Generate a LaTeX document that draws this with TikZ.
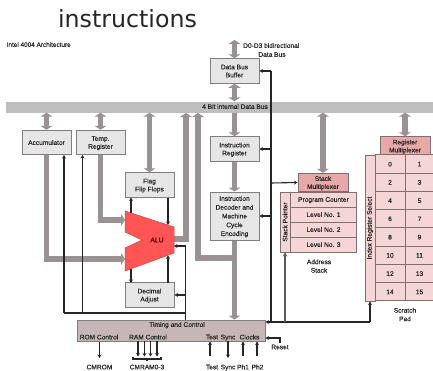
\documentclass[tikz,border=0pt]{standalone}
\usepackage{fontspec}
\setmainfont{Liberation Sans}[BoldFont=Liberation Sans,BoldFeatures={FakeBold=0.35}]
\newfontfamily\titlefont{DejaVu Sans}
\usetikzlibrary{arrows.meta,calc}
\definecolor{busgray}{HTML}{BEBEBE}
\definecolor{thick}{HTML}{9A9292}
\definecolor{boxfill}{HTML}{E6E6E6}
\definecolor{boxline}{HTML}{7F7F7F}
\definecolor{pinkfill}{HTML}{F4D6D6}
\definecolor{muxfill}{HTML}{E6A8A8}
\definecolor{pinkline}{HTML}{7F6F6F}
\definecolor{timefill}{HTML}{C6B6B6}
\definecolor{alured}{HTML}{FF5555}
\tikzset{
  txt/.style={font=\fontsize{6.6}{7.5}\selectfont\bfseries,text=black!85,inner sep=0pt,align=center,text depth=0pt},
  bx/.style={txt,draw=boxline,line width=1pt,fill=boxfill,minimum width=49pt,minimum height=24.5pt,align=center},
  pinkbx/.style={txt,draw=pinkline,line width=1pt,fill=pinkfill,minimum width=66pt,minimum height=15pt},
  cellbx/.style={txt,draw=pinkline,line width=1pt,fill=pinkfill,minimum width=30pt,minimum height=18.25pt},
  muxbx/.style={txt,draw=pinkline,line width=1pt,fill=muxfill,minimum width=50pt,minimum height=18.5pt},
  fat/.style={draw=thick,line width=5.5pt,-{Triangle[length=4pt,width=12pt]}},
  fatboth/.style={draw=thick,line width=5.5pt,{Triangle[length=4pt,width=12pt]}-{Triangle[length=4pt,width=12pt]}},
  thin/.style={draw=black!85,line width=1.1pt,-{Stealth[length=3.5pt,width=4pt]}},
  plainline/.style={draw=black!85,line width=1.1pt},
}
\begin{document}
\begin{tikzpicture}[x=1pt,y=-1pt]
\useasboundingbox (0,0) rectangle (433,370);
% title
\node[font=\titlefont\fontsize{23.7}{26}\selectfont,text=black!85,inner sep=0pt,anchor=base] (title) at (127.5,27) {instructions};
\node[txt,font=\fontsize{6.4}{7}\selectfont\bfseries,anchor=west] (arch) at (6.5,44.5) {Intel 4004 Architecture};
% bus
\node[fill=busgray,minimum width=427pt,minimum height=11pt,inner sep=0pt] (bus) at (219.5,107) {};
\node[txt] (buslabel) at (235,106.5) {4 Bit internal Data Bus};
% boxes
\node[bx] (acc) at (46.5,142.5) {Accumulator};
\node[bx] (temp) at (100.5,142.5) {Temp.\\[0.5pt]Register};
\node[bx] (flag) at (149.5,185) {Flag\\[0.5pt]Flip Flops};
\node[bx] (dec) at (149.5,295) {Decimal\\[0.5pt]Adjust};
\node[bx] (dbb) at (234.5,71) {Data Bus\\[0.5pt]Buffer};
\node[bx] (ir) at (234.5,149) {Instruction\\[0.5pt]Register};
\node[bx,minimum height=48pt] (idc) at (234.5,216) {Instruction\\[1.3pt]Decoder and\\[1.3pt]Machine\\[1.3pt]Cycle\\[1.3pt]Encoding};
\node[txt,anchor=west] (dbus) at (243,45.5) {D0-D3 bidirectional};
\node[txt] (dbus2) at (272,54.5) {Data Bus};
\coordinate (dtop) at (234.5,40);
% ALU
\coordinate (a1) at (125,211); \coordinate (a2) at (174,227); \coordinate (a3) at (174,253);
\coordinate (a4) at (125,271); \coordinate (a5) at (125,248); \coordinate (a6) at (142,240); \coordinate (a7) at (125,232);
% fat arrows
\draw[fatboth] (acc.north) -- (bus.south -| acc);
\draw[fatboth] (temp.north) -- (bus.south -| temp);
\draw[fatboth] (flag.north) -- (bus.south -| flag);
\draw[fatboth] (dbb.north) -- (dtop);
\draw[fatboth] (dbb.south) -- (bus.north -| dbb);
\draw[fat] (bus.south -| ir) -- (ir.north);
\draw[fat] (ir.south) -- (idc.north);
\coordinate (aluin1) at (125,220); \coordinate (aluin2) at (125,259);
\coordinate (aluout) at (174,239);
\coordinate (bus185) at (186,113); \coordinate (bus198) at (198,113);
\coordinate (join) at (234.5,258);
\draw[fat] (acc.south) |- (aluin2);
\draw[fat] (temp.south) |- (aluin1);
\draw[fat] (aluout) -| (bus185);
\draw[draw=thick,line width=5.5pt] (join) -| (198,120);
\draw[fat] (198,120) -- (bus198);
% stack
\node[muxbx] (smux) at (323,182.5) {Stack\\[0.5pt]Multiplexer};
\node[pinkbx,anchor=west] (pc) at (290,199.5) {Program Counter};
\node[pinkbx,anchor=west] (l1) at (290,214.5) {Level No. 1};
\node[pinkbx,anchor=west] (l2) at (290,229.5) {Level No. 2};
\node[pinkbx,anchor=west] (l3) at (290,244.5) {Level No. 3};
\node[txt,draw=pinkline,line width=1pt,fill=pinkfill,minimum width=10pt,minimum height=60pt] (sp) at (285,222) {\rotatebox{90}{Stack Pointer}};
\node[txt] (astack) at (319,266) {Address\\[1pt]Stack};
% scratch pad
\node[muxbx] (rmux) at (405,146) {Register\\[0.5pt]Multiplexer};
\node[txt,draw=pinkline,line width=1pt,fill=pinkfill,minimum width=10pt,minimum height=146pt] (irs) at (370,228) {\rotatebox{90}{Index Register Select}};
\foreach \n/\a/\b [count=\i from 0] in {0/0/1,1/2/3,2/4/5,3/6/7,4/8/9,5/10/11,6/12/13,7/14/15}{
  \node[cellbx] (c\a) at (390,{164.1+18.25*\i}) {\a};
  \node[cellbx,minimum width=28pt,anchor=west] (c\b) at (405,{164.1+18.25*\i}) {\b};
}
\node[txt] (spad) at (405,314.5) {Scratch\\[1pt]Pad};
\draw[fatboth] (smux.north) -- (bus.south -| smux);
\draw[fatboth] (rmux.north) -- (bus.south -| rmux);
% timing
\node[draw=boxline,line width=1pt,fill=timefill,minimum width=188pt,minimum height=21pt,inner sep=0pt] (tc) at (171,330.5) {};
\node[txt] (tctitle) at (177,324.5) {Timing and Control};
\node[txt] (rom) at (99,337) {ROM Control};
\node[txt] (ram) at (148,337) {RAM Control};
\node[txt] (ttest) at (212,337) {Test};
\node[txt] (tsync) at (228,337) {Sync};
\node[txt] (tclk) at (249.5,337) {Clocks};
\node[txt] (cmrom) at (99.5,367) {CMROM};
\node[txt] (cmram) at (147,367) {CMRAM0-3};
\node[txt] (btest) at (212,367) {Test};
\node[txt] (bsync) at (228,367) {Sync};
\node[txt] (ph1) at (243,367) {Ph1};
\node[txt] (ph2) at (257.5,367) {Ph2};
\node[txt] (reset) at (280,347) {Reset};
% fat arrow into timing
\draw[fat] (idc.south) -- (tc.north -| idc);
% ALU polygon
\draw[fill=alured,draw=alured!80!black,line width=0.5pt] (a1) -- (a2) -- (a3) -- (a4) -- (a5) -- (a6) -- (a7) -- cycle;
\node[font=\fontsize{6.8}{8}\selectfont\bfseries,text=red!30!black,inner sep=0pt] (alu) at (157,240) {ALU};
% thin black connections
\coordinate (v271) at (271,322);
\coordinate (r370) at (370,322);
\draw[thin] (v271) -- (265.5,322);
\draw[plainline] (v271) -- (r370);
\draw[thin] (r370) -- (irs.south -| r370);
\draw[plainline] (271,71) -- (v271);
\draw[thin] (271,71) -- (dbb.east);
\draw[thin] (271,149) -- (ir.east);
\draw[thin] (271,216) -- (idc.east);
\draw[thin] (271,183) -- (smux.west);
\draw[draw=thick!60!black,line width=2pt,-{Stealth[length=4pt,width=4.5pt]}] (285,322) -- (sp.south);
% control line
\coordinate (c185) at (185.5,320);
\coordinate (h313) at (185.5,313);
\draw[plainline] (c185) -- (185.5,246);
\draw[thin] (185.5,246) -- (174,246);
\draw[thin] (185.5,295) -- (dec.east);
\draw[plainline] (h313) -- (64,313);
\draw[thin] (64,313) -- (64,155);
\draw[thin] (82.5,313) -- (82.5,155);
% ALU links
\draw[thin] (131,213) -- (131,197.5);
\draw[thin] (168,197.5) -- (168,225);
\draw[thin] (131,269) -- (131,283);
\draw[thin] (168,283) -- (168,255.5);
% bottom signals
\draw[thin] (tc.south -| cmrom) -- (99.5,358);
\foreach \x in {138,144.5,150.5,157}{\draw[thin] (\x,341) -- (\x,356.5);}
\coordinate (brk) at (147,361);
\draw[plainline] (133,356.5) -- (133,359) -- (161,359) -- (161,356.5);
\draw[plainline] (147,359) -- (brk);
\draw[thin] (210,356) -- (210,341.5);
\draw[thin] (228,341) -- (228,358);
\draw[thin] (243,356) -- (243,341.5);
\draw[thin] (257,356) -- (257,341.5);
\coordinate (rs) at (280,343);
\draw[thin] (rs) |- (265.5,338);
\end{tikzpicture}
\end{document}
